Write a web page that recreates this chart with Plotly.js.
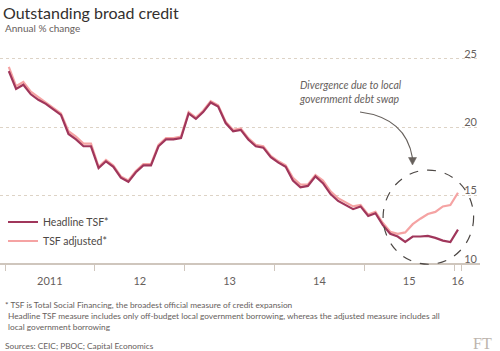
<!DOCTYPE html>
<html>
<head>
<meta charset="utf-8">
<script src="https://cdn.plot.ly/plotly-3.0.1.min.js"></script>
<style>
html,body{margin:0;padding:0;background:#fff;}
#chart{width:500px;height:351px;}
</style>
</head>
<body>
<div id="chart"></div>
<script>
// ---- Data ----
var startYear = 2011, endYear = 2016, endMonth = 1;
var months = [];
for (var y = startYear; y <= endYear; y++) {
  for (var m = 1; m <= 12; m++) {
    if (y === endYear && m > endMonth) break;
    months.push(y + '-' + (m < 10 ? '0' + m : m));
  }
}
var headlineTSF = [
  24.1, 22.8, 23.1, 22.4, 22.0, 21.7, 21.3, 20.9, 19.5, 19.1, 18.6, 18.6,
  17.0, 17.5, 17.1, 16.3, 16.0, 16.7, 17.2, 17.2, 18.6, 19.1, 19.1, 19.2,
  21.0, 20.6, 21.1, 21.8, 21.5, 20.3, 19.7, 19.8, 19.1, 18.6, 18.5, 17.8,
  17.4, 17.1, 16.1, 15.6, 15.7, 16.4, 15.9, 15.1, 14.6, 14.3, 14.0, 14.2,
  13.5, 13.7, 12.85, 12.2, 12.0, 11.6, 12.0, 12.0, 12.05, 11.9, 11.7, 11.6,
  12.5
];
var tsfAdjusted = [
  24.4, 23.0, 23.3, 22.6, 22.2, 21.8, 21.4, 21.0, 19.7, 19.3, 18.8, 18.8,
  17.1, 17.6, 17.2, 16.4, 16.1, 16.8, 17.3, 17.3, 18.7, 19.2, 19.2, 19.3,
  21.1, 20.7, 21.2, 21.9, 21.6, 20.4, 19.8, 19.9, 19.2, 18.7, 18.6, 17.9,
  17.5, 17.2, 16.3, 15.8, 15.8, 16.5, 16.1, 15.3, 14.8, 14.5, 14.2, 14.3,
  13.6, 13.8, 13.0, 12.35, 12.2, 12.3, 12.9, 13.3, 13.65, 13.8, 14.2, 14.3,
  15.2
];
var seriesNames = ['Headline TSF*', 'TSF adjusted*'];
var yTicks = [10, 15, 20, 25];
var xTickMarks = ['2011-01-01','2012-01-01','2013-01-01','2014-01-01','2015-01-01','2016-01-01','2016-02-01'];
var xLabelPos = ['2011-07-02','2012-07-02','2013-07-02','2014-07-02','2015-07-02','2016-01-16'];
var xLabels = ['2011','12','13','14','15','16'];

// ---- Layout helpers ----
var W = 500, H = 351;
var M = {l: 0, r: 20, t: 41, b: 81};
var PW = W - M.l - M.r, PH = H - M.t - M.b;
function px(x){ return (x - M.l) / PW; }
function py(y){ return (H - M.b - y) / PH; }

var xRange = ['2010-12-11 16:00', '2016-04-15'];
var FONT = 'Lato, "Open Sans", sans-serif';
var grey = '#66605c';

var traces = [
  {x: months, y: tsfAdjusted, name: seriesNames[1], type: 'scatter', mode: 'lines',
   xperiod: 'M1', xperiodalignment: 'middle',
   line: {color: '#f5a3a3', width: 2.2}},
  {x: months, y: headlineTSF, name: seriesNames[0], type: 'scatter', mode: 'lines',
   xperiod: 'M1', xperiodalignment: 'middle',
   line: {color: '#a0365b', width: 2.2}},
  {x: [], y: [], xaxis: 'x2', showlegend: false, hoverinfo: 'skip'}
];

var arrowPath = 'M' + px(360) + ',' + py(112) + ' Q' + px(406) + ',' + py(118) + ' ' + px(412.5) + ',' + py(158);
var headPath = 'M' + px(408.5) + ',' + py(157.5) + ' L' + px(416.5) + ',' + py(157.5) + ' L' + px(412.5) + ',' + py(165) + ' Z';

var axisPos = py(264);

var layout = {
  width: W, height: H,
  margin: M,
  paper_bgcolor: '#ffffff', plot_bgcolor: '#ffffff',
  font: {family: FONT, color: grey, size: 11},
  title: {text: 'Outstanding broad credit', x: 3/W, xanchor: 'left', xref: 'container',
          y: 1 - 13/H, yanchor: 'middle', yref: 'container',
          font: {family: FONT, size: 16, color: '#33302e'}},
  showlegend: true,
  legend: {x: px(3), xanchor: 'left', y: py(207.5), yanchor: 'top', traceorder: 'reversed',
           bgcolor: 'rgba(0,0,0,0)', font: {size: 10.5, color: '#4d4845', family: FONT},
           tracegroupgap: 0},
  xaxis: {type: 'date', range: xRange, tickmode: 'array', tickvals: xTickMarks,
          anchor: 'free', position: axisPos,
          showticklabels: false, ticks: 'outside', ticklen: 6, tickwidth: 1, tickcolor: '#cfc6bd',
          showgrid: false, zeroline: false, showline: true, linecolor: '#cfc6bd', linewidth: 2,
          fixedrange: true},
  xaxis2: {type: 'date', range: xRange, overlaying: 'x', anchor: 'free', position: axisPos, side: 'bottom',
           tickmode: 'array', tickvals: xLabelPos, ticktext: xLabels, ticks: '',
           showgrid: false, zeroline: false, showline: false,
           tickfont: {size: 11, color: grey, family: FONT}, ticklabelstandoff: 9},
  yaxis: {range: [9.55, 26.3], side: 'right', tickmode: 'array', tickvals: yTicks,
          ticklabelposition: 'inside', ticklabelshift: -5, ticklabelstandoff: 0,
          showgrid: true, gridcolor: '#ddd3c6', griddash: 'dot', gridwidth: 1,
          zeroline: false, showline: false, ticks: '',
          tickfont: {size: 11, color: grey, family: FONT}},
  shapes: [
    {type: 'circle', xref: 'x', yref: 'y', x0: '2015-03-18', x1: '2016-03-20', y0: 9.97, y1: 16.86,
     line: {color: '#4d4845', width: 1.2, dash: 'dash'}},
    {type: 'path', xref: 'paper', yref: 'paper', path: arrowPath,
     line: {color: '#66605c', width: 1.2}},
    {type: 'path', xref: 'paper', yref: 'paper', path: headPath,
     fillcolor: '#66605c', line: {color: '#66605c', width: 0.5}}
  ],
  annotations: [
    {text: 'Annual % change', xref: 'paper', yref: 'paper', x: px(3), y: py(28),
     xanchor: 'left', yanchor: 'middle', showarrow: false, font: {size: 10, color: grey}},
    {text: '<i>Divergence due to local<br>government debt swap</i>', xref: 'paper', yref: 'paper',
     x: px(350), y: py(91.5), xanchor: 'center', yanchor: 'middle', showarrow: false,
     align: 'left', font: {size: 10.5, color: grey}},
    {text: '* TSF is Total Social Financing, the broadest official measure of credit expansion',
     xref: 'paper', yref: 'paper', x: px(3), y: py(305), xanchor: 'left', yanchor: 'middle',
     showarrow: false, font: {size: 8.3, color: grey}},
    {text: 'Headline TSF measure includes only off-budget local government borrowing, whereas the adjusted measure includes all',
     xref: 'paper', yref: 'paper', x: px(6), y: py(316), xanchor: 'left', yanchor: 'middle',
     showarrow: false, font: {size: 8.3, color: grey}},
    {text: 'local government borrowing',
     xref: 'paper', yref: 'paper', x: px(6), y: py(327), xanchor: 'left', yanchor: 'middle',
     showarrow: false, font: {size: 8.3, color: grey}},
    {text: 'Sources: CEIC; PBOC; Capital Economics',
     xref: 'paper', yref: 'paper', x: px(3), y: py(346), xanchor: 'left', yanchor: 'middle',
     showarrow: false, font: {size: 8.3, color: grey}},
    {text: 'FT', xref: 'paper', yref: 'paper', x: px(494), y: py(343), xanchor: 'right', yanchor: 'middle',
     showarrow: false, font: {size: 16, color: '#bdb5ae', family: '"Liberation Serif", "DejaVu Serif", serif'}}
  ]
};

Plotly.newPlot('chart', traces, layout, {displayModeBar: false, staticPlot: true});
</script>
</body>
</html>
